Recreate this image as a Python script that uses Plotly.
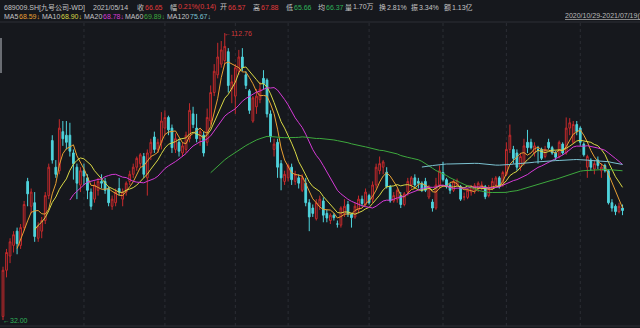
import plotly.graph_objects as go
import pandas as pd

# ---------------- data ----------------
opens = [33, 46, 50, 53, 57, 53, 58, 71, 64, 65, 55, 57, 60, 67, 82.5, 75, 74, 85, 84, 84,
         79, 75, 70, 74, 72, 68, 66, 68.5, 71, 71, 69, 64, 65, 69, 66, 68, 71, 73, 75, 76,
         78, 72, 79, 83.5, 80, 82, 86, 89, 86, 80, 82, 79, 80, 83, 90, 86, 83, 84, 82, 88,
         96, 101, 104, 105, 107.5, 97, 95, 102, 106, 101, 96.5, 88, 92, 94, 100, 99.5, 90, 80, 82, 76,
         71, 72, 75, 71, 72, 68.5, 70.5, 65, 63.5, 60.5, 64, 65.5, 62, 60, 61.5, 59, 58.7, 62, 64.5, 61.8,
         61, 63, 66, 64.5, 67, 66, 70, 74, 75, 73.6, 69.5, 65.5, 66, 67, 64.5, 68, 70, 72, 71, 70.5,
         71, 66.6, 65.2, 63.5, 70, 73.5, 71.5, 70, 68.5, 70, 69.5, 66.57, 66.5, 68, 68.5, 69, 69.5, 69.5, 67, 69,
         70, 72, 70, 73, 80, 80, 79, 75, 76, 82, 82, 79, 80, 80, 78, 82, 80.5, 79, 78, 81.5,
         79, 86, 82, 87, 86, 81.5, 75, 77, 74.5, 77, 74, 75.5, 74, 65, 64, 62.5, 63.5]
highs = [47, 52, 55, 57, 58, 59, 65.5, 72, 69, 68, 59.5, 61, 68, 76, 84, 77, 88.5, 88, 88, 87.5,
         80, 76, 75, 76, 73, 69, 71, 72, 73, 72, 69.5, 67, 69, 72, 69, 71, 74, 76, 78, 79,
         79, 80, 83, 85, 83, 90.5, 91, 89.5, 87, 84.5, 83, 82, 85, 93, 92, 90, 86, 85, 91.5, 98,
         104, 110, 110.5, 112.76, 108.5, 101, 104, 108, 108.5, 102, 97, 95, 97, 99, 102.3, 100, 91, 83, 83, 77,
         74, 76, 76, 74, 73, 73, 72, 66, 64.5, 66, 67, 66.5, 63, 62, 62, 60, 64, 66, 65.5, 62,
         65, 67, 67, 69, 67.5, 71, 76, 78, 77, 75, 70, 68, 69, 68, 68, 72, 72.5, 73, 72, 71,
         72, 70, 66, 72, 75.5, 76.5, 72, 70.5, 71.5, 71.8, 70, 67.88, 69, 70, 70.5, 71, 71, 70, 70, 72,
         72.5, 72.5, 74, 82, 87, 81, 80, 79, 83, 85.5, 83, 82, 81, 80.5, 81, 83, 81, 79.5, 82.5, 82,
         89, 88.8, 88, 88, 86.5, 82, 78.5, 77.5, 77, 78, 76, 76, 74.5, 66, 64.5, 65, 64.5]
lows = [32, 44, 48, 51, 50.5, 52, 57, 64, 62, 54, 54, 55, 59, 66, 76, 72, 73, 81, 80, 78,
        71.5, 66, 68, 70, 66, 63, 65, 67, 69, 67.5, 64, 63, 64, 67, 64, 67, 70, 72, 74, 75,
        72, 67, 77, 79, 79, 80, 84, 84, 79, 79, 78, 78, 79, 82, 86, 82, 81, 78, 81, 87,
        95, 100, 103, 104, 96, 93, 90, 101, 102, 97, 90, 87.5, 90, 93, 97, 89, 82, 78, 72, 68.5,
        70, 71, 70, 70, 69, 68, 64, 57, 61, 60, 63, 59.5, 59.5, 59, 60, 58, 58, 61, 61, 58,
        60.5, 62, 64, 64, 64.5, 65, 69, 73, 73, 69, 65, 65, 65, 63.5, 64, 67, 69, 69.5, 69, 68,
        68, 66, 62.5, 63, 69, 71, 69, 67.5, 68, 69.5, 65.5, 65.66, 66, 67, 67.5, 68, 68.5, 66, 66.5, 68.5,
        69.5, 69, 69.5, 72.5, 79, 76, 74, 74, 75.5, 79, 80, 78, 76, 77, 77.5, 80, 78.5, 77, 77.5, 78.5,
        78.5, 84, 81.5, 84, 81, 78, 72, 74, 73, 74.5, 72, 73.5, 64.5, 62.5, 61.5, 62, 61.5]
closes = [46, 51, 54, 56, 53.5, 58, 64.5, 67.5, 68, 55.5, 58.5, 60, 67, 75, 77, 73, 86, 83, 82, 79.5,
          76, 70.5, 74, 72.5, 68.5, 64, 70, 71, 70.5, 68.5, 65, 66, 68, 68, 68, 70.5, 73, 75, 77.5, 78.5,
          73, 79, 82, 80, 82, 88, 89, 85.5, 80.5, 83, 79.5, 81, 84, 91, 87, 83, 85, 79, 89, 96,
          102, 106, 108, 109, 98, 99, 103, 106, 103, 98, 91, 94.5, 95, 97, 98.5, 90, 83.5, 81.5, 75, 72,
          73, 75.5, 71.5, 73, 70.5, 72, 65, 61, 62, 65, 66, 61.5, 60.7, 61.5, 60.8, 59, 63.5, 64, 61.8, 60.8,
          64, 66, 64.8, 68, 65, 70, 75, 76, 76.5, 69.5, 65.5, 67, 68.5, 64.5, 67.5, 71, 72, 70, 70.5, 68.5,
          68.5, 69.4, 63.5, 70, 74, 71.5, 69.5, 68.5, 71, 71.2, 66, 66.65, 68.5, 69.5, 69.8, 70.5, 70, 66.7, 69, 71,
          72, 69.5, 73.5, 80, 84, 77.5, 75, 78, 81, 80.5, 80.5, 81, 80, 77.5, 80, 80.5, 79, 77.8, 82, 79,
          86, 87.5, 87, 85, 82, 78.5, 78, 75, 76, 75.5, 75, 74, 65, 63.5, 62.5, 64, 62.8]

ma_periods = [5, 10, 20, 60, 120]
ma_colors = ["#e8a033", "#d9d845", "#d53ad6", "#3da83d", "#7cc3d2"]
month_starts = [23, 46, 66, 81, 104, 125, 143, 164]   # Dec, Jan, Feb, Mar, Apr, May, Jun, Jul

LBL = "#c4c4c4"
header1 = [("689009.SH[九号公司-WD]", 2, LBL), ("2021/05/14", 91, LBL),
           ("收", 135, LBL), ("66.65", 143, "#e0383a"),
           ("幅", 168, LBL), ("0.21%(0.14)", 176, "#e0383a"),
           ("开", 218, LBL), ("66.57", 226, "#e0383a"),
           ("高", 251, LBL), ("67.88", 259, "#e0383a"),
           ("低", 284, LBL), ("65.66", 292, "#2fb35a"),
           ("均", 316, LBL), ("66.37", 324, "#2fb35a"),
           ("量", 343, LBL), ("1.70万", 351, LBL),
           ("换", 377, LBL), ("2.81%", 385, LBL),
           ("振", 409, LBL), ("3.34%", 417, LBL),
           ("额", 442, LBL), ("1.13亿", 450, LBL)]
header2 = [("MA5", 2, LBL), ("68.59↓", 17, ma_colors[0]),
           ("MA10", 40, LBL), ("68.90↓", 59, ma_colors[1]),
           ("MA20", 82, LBL), ("68.78↓", 101, ma_colors[2]),
           ("MA60", 123, LBL), ("69.89↓", 142, ma_colors[3]),
           ("MA120", 165, LBL), ("75.67↓", 188, ma_colors[4])]
range_text = "<u>2020/10/29-2021/07/19(177)</u>"

# ---------------- figure ----------------
W, H = 640, 328
BG = "#16181d"
RED = "#c62a2c"
CYAN = "#4fd4dd"
FONT = "Liberation Sans, Arial, Noto Sans CJK SC"
FS = 7

idx = list(range(len(closes)))
s = pd.Series(closes)

fig = go.Figure()
fig.add_trace(go.Candlestick(
    x=idx, open=opens, high=highs, low=lows, close=closes,
    increasing=dict(line=dict(color=RED, width=1), fillcolor=BG),
    decreasing=dict(line=dict(color=CYAN, width=1), fillcolor=CYAN),
    whiskerwidth=0, hoverinfo="skip", showlegend=False))
for n, c in zip(ma_periods, ma_colors):
    fig.add_trace(go.Scatter(x=idx, y=s.rolling(n).mean(), mode="lines",
                             line=dict(color=c, width=1), hoverinfo="skip",
                             showlegend=False))

# pixel helpers (paper coordinates)
def px(x):
    return x / W

def py(y):
    return 1 - y / H

shapes = []
for m in month_starts:
    shapes.append(dict(type="line", xref="x", yref="paper", x0=m, x1=m,
                       y0=py(326), y1=py(22), line=dict(color="#2b2e35", width=1, dash="dot"),
                       layer="below"))
shapes.append(dict(type="line", xref="paper", yref="paper", x0=0, x1=1, y0=py(22), y1=py(22),
                   line=dict(color="#2c2f36", width=1)))
shapes.append(dict(type="line", xref="paper", yref="paper", x0=0, x1=1, y0=py(326), y1=py(326),
                   line=dict(color="#2c2f36", width=1)))
shapes.append(dict(type="rect", xref="paper", yref="paper", x0=0, x1=px(2), y0=py(73), y1=py(38),
                   fillcolor="#6a6d73", line=dict(width=0)))

ann = []
for t, x, c in header1:
    ann.append(dict(text=t, x=px(x), y=py(7), xref="paper", yref="paper", xanchor="left",
                    yanchor="middle", showarrow=False, font=dict(size=FS, color=c, family=FONT)))
for t, x, c in header2:
    ann.append(dict(text=t, x=px(x), y=py(16.5), xref="paper", yref="paper", xanchor="left",
                    yanchor="middle", showarrow=False, font=dict(size=FS, color=c, family=FONT)))
ann.append(dict(text=range_text, x=px(563), y=py(16.5), xref="paper", yref="paper",
                xanchor="left", yanchor="middle", showarrow=False,
                font=dict(size=FS, color="#b9b9b9", family=FONT)))

hi_i = max(idx, key=lambda i: highs[i])
lo_i = min(idx, key=lambda i: lows[i])
ann.append(dict(text="←%.2f" % highs[hi_i], x=hi_i, y=highs[hi_i], xref="x", yref="y",
                xanchor="left", yanchor="middle", xshift=-3, showarrow=False,
                font=dict(size=FS, color="#d0383a", family=FONT)))
ann.append(dict(text="←%.2f" % lows[lo_i], x=lo_i, y=lows[lo_i], xref="x", yref="y",
                xanchor="left", yanchor="middle", xshift=-2, showarrow=False,
                font=dict(size=FS, color="#2fb35a", family=FONT)))

# y: price 32 at pixel 320, 112.76 at pixel 33
k = (320 - 33) / (112.76 - 32)
y_top = 32 + 320 / k
y_bot = 32 - (H - 320) / k
x_step = 3.52
x_left = -3 / x_step
x_right = (W - 3) / x_step

fig.update_layout(
    width=W, height=H, margin=dict(l=0, r=0, t=0, b=0),
    paper_bgcolor=BG, plot_bgcolor=BG,
    xaxis=dict(range=[x_left, x_right], visible=False, rangeslider=dict(visible=False),
               showgrid=False, zeroline=False),
    yaxis=dict(range=[y_bot, y_top], visible=False, showgrid=False, zeroline=False),
    shapes=shapes, annotations=ann, showlegend=False, hovermode=False)

fig.write_html("out.html", config={"displayModeBar": False})
